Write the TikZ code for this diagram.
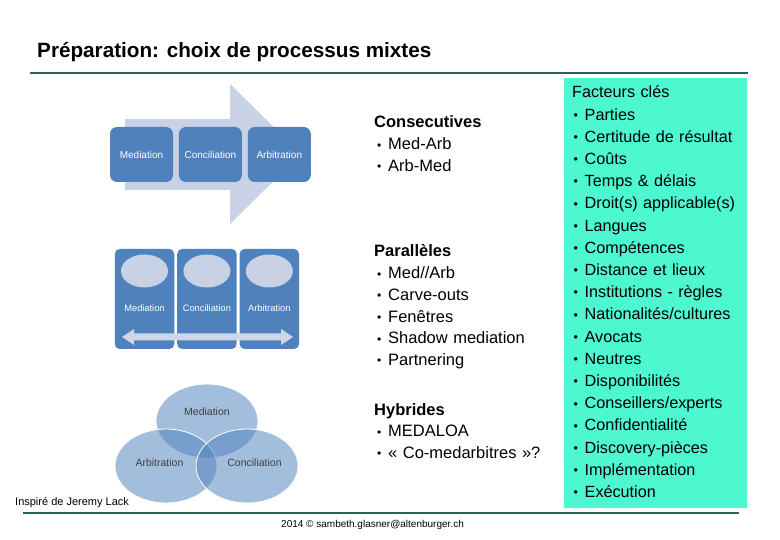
\documentclass[tikz,border=0pt]{standalone}
\usepackage{fontspec}
\setmainfont{Liberation Sans}
\usetikzlibrary{positioning,shapes.geometric}

\definecolor{officeblue}{RGB}{79,129,189}
\definecolor{paleblue}{RGB}{200,210,228}
\definecolor{aquabox}{RGB}{77,247,208}
\definecolor{rulecol}{RGB}{44,94,94}

\newcommand{\itemdot}{\makebox[11pt][l]{\raisebox{0.8pt}{\fontsize{12.5}{12}\selectfont•}}}
\newcommand{\modedot}{\makebox[11pt][l]{\raisebox{0.5pt}{\fontsize{12}{12}\selectfont•}}}

\begin{document}
\begin{tikzpicture}[x=1pt, y=-1pt, inner sep=0pt, node distance=22.2pt]
    \tikzset{
      stage/.style = {rectangle, rounded corners=7pt, fill=officeblue, text=white, font=\fontsize{10}{11}\selectfont, minimum width=63pt, minimum height=55pt},
      lane/.style = {rectangle, rounded corners=5pt, fill=officeblue, minimum width=59.5pt, minimum height=100pt},
      bubble/.style = {ellipse, fill=paleblue, minimum width=47pt, minimum height=33pt},
      lanelabel/.style = {text=white, font=\fontsize{9.3}{10}\selectfont},
      venn/.style = {ellipse, fill=officeblue, fill opacity=0.52, draw=white, line width=0.8pt, minimum width=102pt, minimum height=74pt},
      vennlabel/.style = {text=black!75, font=\fontsize{10.5}{12}\selectfont},
      modetitle/.style = {text width=175pt, align=left, text height=12pt, text depth=4pt, font=\bfseries\fontsize{16.5}{20}\selectfont},
      modeitem/.style = {node distance=21.7pt, text width=175pt, align=left, text height=12pt, text depth=4pt, font=\fontsize{16.5}{20}\selectfont},
      factor/.style = {text width=170pt, align=left, text height=12pt, text depth=4pt, font=\fontsize{16.2}{20}\selectfont},
      sepline/.style = {draw=rulecol, line width=1.3pt}
    }
    \useasboundingbox (0,0) rectangle (780,540);

    % title and rules
    \node (title) [anchor=base west, font=\bfseries\fontsize{20.7}{24}\selectfont] at (37,58) {Préparation: choix de processus mixtes};
    \coordinate (topl) at (30,73);
    \coordinate (topr) at (748,73);
    \draw [sepline] (topl) -- (topr);
    \coordinate (footl) at (23,513);
    \coordinate (footr) at (739,513);
    \draw [sepline] (footl) -- (footr);

    % consecutive
    \fill [paleblue] (125,119) -- (230,119) -- (230,84) -- (301,154) -- (230,224) -- (230,190) -- (125,190) -- cycle;
    \node (med) [stage] at (141.5,154.5) {Mediation};
    \node (con) [stage, right=5.5pt of med] {Conciliation};
    \node (arb) [stage, right=5.5pt of con] {Arbitration};

    % parallel
    \node (lmed) [lane] at (144.5,299) {};
    \node (lcon) [lane, right=2.5pt of lmed] {};
    \node (larb) [lane, right=2.5pt of lcon] {};
    \node (bmed) [bubble, below=5.5pt of lmed.north] {};
    \node (bcon) [bubble, below=5.5pt of lcon.north] {};
    \node (barb) [bubble, below=5.5pt of larb.north] {};
    \node (tmed) [lanelabel, below=17pt of bmed] {Mediation};
    \node (tcon) [lanelabel, below=17pt of bcon] {Conciliation};
    \node (tarb) [lanelabel, below=17pt of barb] {Arbitration};
    \fill [paleblue!90!white] (122,337) -- (134,329) -- (134,333.5) -- (281,333.5) -- (281,329) -- (293,337) -- (281,345) -- (281,340.5) -- (134,340.5) -- (134,345) -- cycle;

    % hybrid
    \node (vmed) [venn] at (207,421) {};
    \node (varb) [venn] at (166,466) {};
    \node (vcon) [venn] at (247,466) {};
    \node (lbmed) [vennlabel] at (207,412) {Mediation};
    \node (lbarb) [vennlabel] at (159.5,463) {Arbitration};
    \node (lbcon) [vennlabel] at (254.5,463) {Conciliation};
    \node (credit) [anchor=base west, font=\fontsize{11}{13}\selectfont] at (15,505) {Inspiré de Jeremy Lack};

    % modes
    \node (cons) [modetitle, anchor=west] at (374,124) {Consecutives};
    \node (c1) [modeitem, below of=cons] {\hspace*{3pt}\modedot Med-Arb};
    \node (c2) [modeitem, below of=c1] {\hspace*{3pt}\modedot Arb-Med};
    \node (para) [modetitle, anchor=west] at (374,253) {Parallèles};
    \node (p1) [modeitem, below of=para] {\hspace*{3pt}\modedot Med//Arb};
    \node (p2) [modeitem, below of=p1] {\hspace*{3pt}\modedot Carve-outs};
    \node (p3) [modeitem, below of=p2] {\hspace*{3pt}\modedot Fenêtres};
    \node (p4) [modeitem, below of=p3] {\hspace*{3pt}\modedot Shadow mediation};
    \node (p5) [modeitem, below of=p4] {\hspace*{3pt}\modedot Partnering};
    \node (hyb) [modetitle, anchor=west] at (374,411) {Hybrides};
    \node (h1) [modeitem, below of=hyb] {\hspace*{3pt}\modedot MEDALOA};
    \node (h2) [modeitem, below of=h1] {\hspace*{3pt}\modedot « Co-medarbitres »?};

    % key factors
    \node (factorbox) [fill=aquabox, minimum width=183pt, minimum height=430pt, anchor=north west] at (564,78) {};
    \node (facteurs) [factor, anchor=west] at (572,94) {Facteurs clés};
    \node (k1) [factor, below of=facteurs] {\hspace*{1.5pt}\itemdot Parties};
    \node (k2) [factor, below of=k1] {\hspace*{1.5pt}\itemdot Certitude de résultat};
    \node (k3) [factor, below of=k2] {\hspace*{1.5pt}\itemdot Coûts};
    \node (k4) [factor, below of=k3] {\hspace*{1.5pt}\itemdot Temps \& délais};
    \node (k5) [factor, below of=k4] {\hspace*{1.5pt}\itemdot Droit(s) applicable(s)};
    \node (k6) [factor, below of=k5] {\hspace*{1.5pt}\itemdot Langues};
    \node (k7) [factor, below of=k6] {\hspace*{1.5pt}\itemdot Compétences};
    \node (k8) [factor, below of=k7] {\hspace*{1.5pt}\itemdot Distance et lieux};
    \node (k9) [factor, below of=k8] {\hspace*{1.5pt}\itemdot Institutions - règles};
    \node (k10) [factor, below of=k9] {\hspace*{1.5pt}\itemdot Nationalités/cultures};
    \node (k11) [factor, below of=k10] {\hspace*{1.5pt}\itemdot Avocats};
    \node (k12) [factor, below of=k11] {\hspace*{1.5pt}\itemdot Neutres};
    \node (k13) [factor, below of=k12] {\hspace*{1.5pt}\itemdot Disponibilités};
    \node (k14) [factor, below of=k13] {\hspace*{1.5pt}\itemdot Conseillers/experts};
    \node (k15) [factor, below of=k14] {\hspace*{1.5pt}\itemdot Confidentialité};
    \node (k16) [factor, below of=k15] {\hspace*{1.5pt}\itemdot Discovery-pièces};
    \node (k17) [factor, below of=k16] {\hspace*{1.5pt}\itemdot Implémentation};
    \node (k18) [factor, below of=k17] {\hspace*{1.5pt}\itemdot Exécution};

    \node (footer) [anchor=base west, font=\fontsize{10}{12}\selectfont] at (281,527) {2014 © sambeth.glasner@altenburger.ch};
\end{tikzpicture}
\end{document}
